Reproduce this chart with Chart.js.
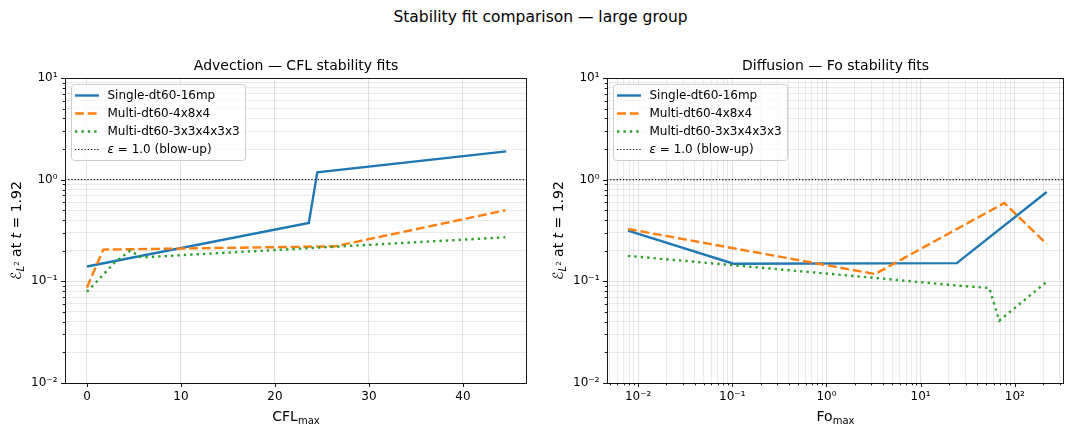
<!DOCTYPE html>
<html>
<head>
<meta charset="utf-8">
<script src="https://cdn.jsdelivr.net/npm/chart.js@4.4.0/dist/chart.umd.min.js"></script>
<style>
  html, body { margin: 0; padding: 0; background: #fff; }
  #wrap { position: relative; width: 1065px; height: 429px; overflow: hidden; }
  #sup { position: absolute; left: 8px; top: 8px; width: 1065px; text-align: center;
         font: 15.5px "DejaVu Sans", sans-serif; color: #000; white-space: nowrap; }
  canvas { position: absolute; top: 0; }
</style>
</head>
<body>
<div id="wrap">
  <div id="sup">Stability fit comparison — large group</div>
  <canvas id="adv" width="532" height="429" style="left:0px"></canvas>
  <canvas id="dif" width="533" height="429" style="left:532px"></canvas>
</div>
<script>
// ---- series names ----
const seriesNames = ['Single-dt60-16mp', 'Multi-dt60-4x8x4', 'Multi-dt60-3x3x4x3x3'];
const blowUpLabel = 'ε = 1.0 (blow-up)';
const blowUpLevel = 1.0;

// ---- advection: error vs CFL_max ----
const advSingleCfl  = [0, 23.6, 24.5, 44.6];
const advSingleErr  = [0.14, 0.375, 1.18, 1.90];
const advM484Cfl    = [0, 1.73, 26.4, 44.5];
const advM484Err    = [0.087, 0.205, 0.221, 0.50];
const advM33Cfl     = [0, 1.6, 3.0, 4.6, 5.8, 44.5];
const advM33Err     = [0.079, 0.113, 0.155, 0.20, 0.172, 0.271];

// ---- diffusion: error vs Fo_max ----
const difSingleFo   = [0.0078, 0.103, 24.2, 218];
const difSingleErr  = [0.315, 0.149, 0.151, 0.757];
const difM484Fo     = [0.0078, 3.28, 77.4, 218];
const difM484Err    = [0.327, 0.118, 0.59, 0.233];
const difM33Fo      = [0.0078, 0.103, 3.28, 24.2, 53.6, 68.4, 218];
const difM33Err     = [0.178, 0.144, 0.108, 0.091, 0.086, 0.041, 0.099];

// ---- ticks ----
const cflTicks      = [0, 10, 20, 30, 40];
const errDecades    = [0.01, 0.1, 1, 10];
const errDecadeText = ['10⁻²', '10⁻¹', '10⁰', '10¹'];
const foDecades     = [0.001, 0.01, 0.1, 1, 10, 100];
const foDecadeText  = ['10⁻³', '10⁻²', '10⁻¹', '10⁰', '10¹', '10²'];

// ---- axis limits ----
const cflMin = -2.34, cflMax = 46.81;
const foMin = 0.00467, foMax = 333;
const errMin = 0.01, errMax = 10;

const FONT = '"DejaVu Sans", sans-serif';
const TICK_PX = 12, LEGEND_PX = 12, TITLE_PX = 14, LABEL_PX = 14;
const COLORS = ['#1f77b4', '#ff7f0e', '#2ca02c'];
const DASHES = [[], [8.9, 3.8], [2.4, 4.0]];
const GRID_MAJOR = 'rgba(176,176,176,0.42)';
const GRID_MINOR = 'rgba(176,176,176,0.30)';

const pts = (xs, ys) => xs.map((x, i) => ({ x, y: ys[i] }));

// decades plus 2..9 sub-decade positions for log axes
function logTicks(decades, lo, hi) {
  const out = [];
  decades.forEach(d => {
    for (let m = 1; m <= 9; m++) {
      const v = +(d * m).toPrecision(6);
      if (v >= lo * 0.9999 && v <= hi * 1.0001) out.push({ value: v, major: m === 1 });
    }
  });
  return out;
}
function decadeLabel(decades, texts) {
  return v => {
    const i = decades.findIndex(d => Math.abs(d - v) / d < 1e-6);
    return i >= 0 ? texts[i] : '';
  };
}

function buildDatasets(sets, xMin, xMax) {
  const ds = sets.map((s, i) => ({
    label: seriesNames[i],
    data: s,
    borderColor: COLORS[i],
    borderWidth: 2.4,
    borderDash: DASHES[i],
    order: 3 - i
  }));
  ds.push({
    label: blowUpLabel,
    data: [{ x: xMin, y: blowUpLevel }, { x: xMax, y: blowUpLevel }],
    borderColor: '#000',
    borderWidth: 1.2,
    borderDash: [1.2, 2.0],
    order: 0
  });
  return ds;
}

// draws text made of differently styled runs
function drawRuns(ctx, runs, x, y, align) {
  let w = 0;
  runs.forEach(r => { ctx.font = r.font; r.w = ctx.measureText(r.t).width; w += r.w; });
  let cx = align === 'center' ? x - w / 2 : x;
  ctx.textAlign = 'left';
  runs.forEach(r => {
    ctx.font = r.font;
    ctx.fillText(r.t, cx, y + (r.dy || 0));
    cx += r.w;
  });
}

function decorPlugin(cfg) {
  return {
    id: 'decor',
    afterDraw(chart) {
      const { ctx, chartArea: a } = chart;
      ctx.save();
      ctx.fillStyle = '#000';
      ctx.strokeStyle = '#000';
      ctx.lineWidth = 0.9;

      // tick marks outside the frame
      const xs = chart.scales.x, ys = chart.scales.y;
      ctx.beginPath();
      xs.ticks.forEach(t => {
        const p = Math.round(xs.getPixelForValue(t.value)) + 0.5;
        const len = t.major ? 4 : 2.3;
        ctx.moveTo(p, a.bottom); ctx.lineTo(p, a.bottom + len);
      });
      ys.ticks.forEach(t => {
        const p = Math.round(ys.getPixelForValue(t.value)) + 0.5;
        const len = t.major ? 4 : 2.3;
        ctx.moveTo(a.left, p); ctx.lineTo(a.left - len, p);
      });
      ctx.stroke();

      // frame
      ctx.strokeRect(a.left + 0.5, a.top + 0.5, a.right - a.left - 1, a.bottom - a.top);

      // title
      ctx.font = TITLE_PX + 'px ' + FONT;
      ctx.textAlign = 'center';
      ctx.textBaseline = 'alphabetic';
      ctx.fillText(cfg.title, (a.left + a.right) / 2, a.top - 8);

      // x label with subscript
      drawRuns(ctx, [
        { t: cfg.xName, font: LABEL_PX + 'px ' + FONT },
        { t: 'max', font: '10px ' + FONT, dy: 3 }
      ], (a.left + a.right) / 2, 421, 'center');

      // y label, rotated
      ctx.save();
      ctx.translate(cfg.yLabelX, (a.top + a.bottom) / 2);
      ctx.rotate(-Math.PI / 2);
      drawRuns(ctx, [
        { t: 'ℰ', font: LABEL_PX + 'px ' + FONT },
        { t: 'L', font: 'italic 10px ' + FONT, dy: 3 },
        { t: '2', font: '7px ' + FONT, dy: -2 },
        { t: ' at ', font: LABEL_PX + 'px ' + FONT },
        { t: 't', font: 'italic ' + LABEL_PX + 'px ' + FONT },
        { t: ' = 1.92', font: LABEL_PX + 'px ' + FONT }
      ], 0, 5, 'center');
      ctx.restore();

      // legend box inside the axes, upper left
      const dsets = chart.data.datasets;
      ctx.font = LEGEND_PX + 'px ' + FONT;
      let tw = 0;
      dsets.forEach(d => { tw = Math.max(tw, ctx.measureText(d.label).width); });
      const bx = a.left + 6.5, by = a.top + 6.5;
      const bw = 36 + tw + 6, bh = 76;
      ctx.beginPath();
      if (ctx.roundRect) ctx.roundRect(bx, by, bw, bh, 3); else ctx.rect(bx, by, bw, bh);
      ctx.fillStyle = 'rgba(255,255,255,0.8)';
      ctx.fill();
      ctx.strokeStyle = '#cccccc';
      ctx.lineWidth = 1;
      ctx.stroke();
      dsets.forEach((d, i) => {
        const ry = by + 11 + i * 18;
        ctx.beginPath();
        ctx.setLineDash(d.borderDash || []);
        ctx.strokeStyle = d.borderColor;
        ctx.lineWidth = d.borderWidth;
        ctx.lineCap = 'butt';
        ctx.moveTo(bx + 3.5, ry); ctx.lineTo(bx + 27.5, ry);
        ctx.stroke();
        ctx.setLineDash([]);
        ctx.fillStyle = '#000';
        ctx.textBaseline = 'middle';
        if (d.label.startsWith('ε')) {
          drawRuns(ctx, [
            { t: 'ε', font: 'italic ' + LEGEND_PX + 'px ' + FONT },
            { t: d.label.slice(1), font: LEGEND_PX + 'px ' + FONT }
          ], bx + 36, ry, 'left');
        } else {
          ctx.font = LEGEND_PX + 'px ' + FONT;
          ctx.textAlign = 'left';
          ctx.fillText(d.label, bx + 36, ry);
        }
      });
      ctx.restore();
    }
  };
}

function gridColor(c) { return c.tick && c.tick.major ? GRID_MAJOR : GRID_MINOR; }

function yAxis(width) {
  return {
    type: 'logarithmic', min: errMin, max: errMax,
    afterBuildTicks: s => { s.ticks = logTicks(errDecades, errMin, errMax); },
    afterFit: s => { s.width = width; },
    ticks: { callback: decadeLabel(errDecades, errDecadeText), autoSkip: false,
             color: '#000', font: { family: FONT, size: TICK_PX }, padding: 3.5 },
    grid: { color: gridColor, lineWidth: 0.9, drawTicks: true, tickLength: 4,
            tickColor: 'rgba(0,0,0,0)' },
    border: { display: false }
  };
}

function baseOptions(padRight, yWidth, xScale) {
  return {
    responsive: false, animation: false, devicePixelRatio: 1,
    layout: { padding: { top: 78, right: padRight, left: 0, bottom: 0 } },
    elements: { point: { radius: 0 }, line: { tension: 0, fill: false, borderCapStyle: 'butt' } },
    plugins: { legend: { display: false }, title: { display: false }, tooltip: { enabled: false } },
    scales: { x: xScale, y: yAxis(yWidth) }
  };
}

// advection panel
new Chart(document.getElementById('adv'), {
  type: 'line',
  data: { datasets: buildDatasets([
    pts(advSingleCfl, advSingleErr), pts(advM484Cfl, advM484Err), pts(advM33Cfl, advM33Err)
  ], cflMin, cflMax) },
  options: baseOptions(5, 65, {
    type: 'linear', min: cflMin, max: cflMax,
    afterBuildTicks: s => { s.ticks = cflTicks.map(v => ({ value: v, major: true })); },
    afterFit: s => { s.height = 46; },
    ticks: { autoSkip: false, maxRotation: 0, color: '#000', font: { family: FONT, size: TICK_PX }, padding: 3 },
    grid: { color: GRID_MAJOR, lineWidth: 0.9, drawTicks: true, tickLength: 4, tickColor: 'rgba(0,0,0,0)' },
    border: { display: false }
  }),
  plugins: [decorPlugin({ title: 'Advection — CFL stability fits', xName: 'CFL', yLabelX: 16 })]
});

// diffusion panel
new Chart(document.getElementById('dif'), {
  type: 'line',
  data: { datasets: buildDatasets([
    pts(difSingleFo, difSingleErr), pts(difM484Fo, difM484Err), pts(difM33Fo, difM33Err)
  ], foMin, foMax) },
  options: baseOptions(1, 75, {
    type: 'logarithmic', min: foMin, max: foMax,
    afterBuildTicks: s => { s.ticks = logTicks(foDecades, foMin, foMax); },
    afterFit: s => { s.height = 46; },
    ticks: { callback: decadeLabel(foDecades, foDecadeText), autoSkip: false, maxRotation: 0,
             color: '#000', font: { family: FONT, size: TICK_PX }, padding: 3 },
    grid: { color: gridColor, lineWidth: 0.9, drawTicks: true, tickLength: 4, tickColor: 'rgba(0,0,0,0)' },
    border: { display: false }
  }),
  plugins: [decorPlugin({ title: 'Diffusion — Fo stability fits', xName: 'Fo', yLabelX: 26 })]
});
</script>
</body>
</html>
